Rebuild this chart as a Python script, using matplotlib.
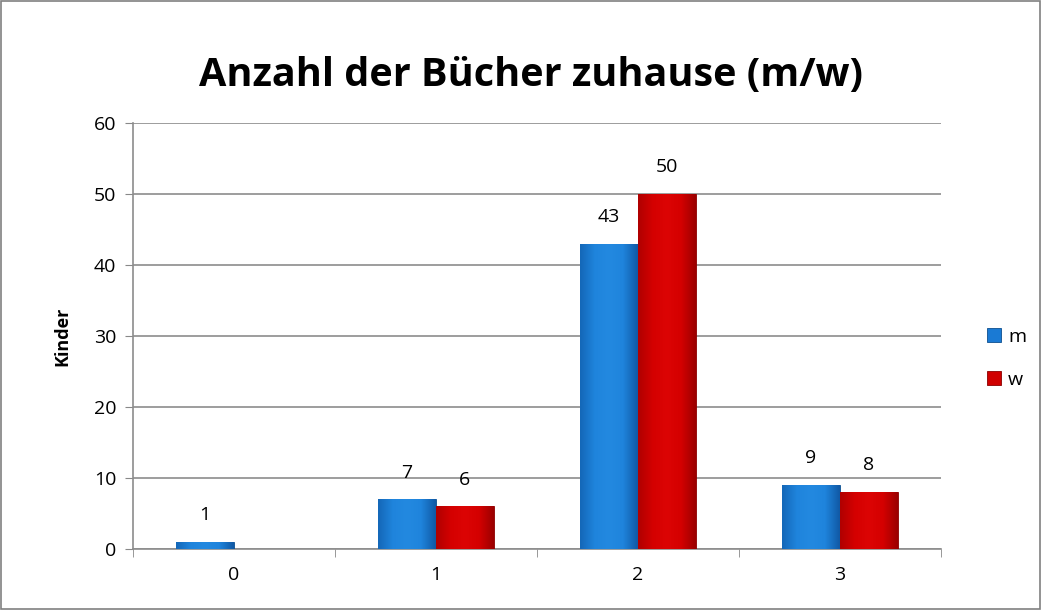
import matplotlib
matplotlib.use("Agg")
import matplotlib.pyplot as plt
import numpy as np
from matplotlib.patches import Rectangle
from matplotlib.colors import LinearSegmentedColormap

categories = ["0", "1", "2", "3"]
m_values = [1, 7, 43, 9]
w_values = [0, 6, 50, 8]
series_names = ["m", "w"]
title = "Anzahl der Bücher zuhause (m/w)"
ylabel = "Kinder"

plt.rcParams['font.family'] = ['Open Sans', 'DejaVu Sans']

fig = plt.figure(figsize=(10.42, 6.10), dpi=100)
ax = fig.add_axes([0.1276, 0.1, 0.7754, 0.698])

x = np.arange(len(categories))
bw = 0.287
blue = "#1a7ad4"
red = "#d00000"
b1 = ax.bar(x - bw / 2, m_values, bw, color=blue, edgecolor="#0d4f8f", linewidth=0.6, label=series_names[0], zorder=3)
b2 = ax.bar(x + bw / 2, w_values, bw, color=red, edgecolor="#8a0000", linewidth=0.6, label=series_names[1], zorder=3)

# horizontal shading gradient for a bevel look
cmaps = {
    "m": LinearSegmentedColormap.from_list("bm", ["#1468b8", "#1f84dc", "#2389e0", "#1f84dc", "#115aa6"]),
    "w": LinearSegmentedColormap.from_list("bw", ["#b00000", "#d40000", "#dc0404", "#d40000", "#9c0000"]),
}
grad = np.linspace(0, 1, 64).reshape(1, -1)
for bars, key in ((b1, "m"), (b2, "w")):
    for p in bars:
        h = p.get_height()
        if h <= 0:
            continue
        x0 = p.get_x(); w = p.get_width()
        im = ax.imshow(grad, cmap=cmaps[key], aspect="auto", extent=(x0, x0 + w, 0, h), zorder=3.5)
        im.set_clip_path(p)

ax.set_aspect("auto")

for xi, v in zip(x, m_values):
    ax.text(xi - bw / 2, v + 2.5, str(v), ha="center", va="bottom", fontsize=14)
for xi, v in zip(x, w_values):
    if v > 0:
        ax.text(xi + bw / 2, v + 2.5, str(v), ha="center", va="bottom", fontsize=14)

ax.set_xlim(-0.5, len(categories) - 0.5)
ax.set_ylim(0, 60)
ax.set_yticks(range(0, 61, 10))
ax.set_xticks(x)
ax.set_xticklabels(categories)
ax.set_xticks(np.arange(-0.5, len(categories), 1), minor=True)
ax.tick_params(axis="x", which="major", length=0, labelsize=14, pad=12)
ax.tick_params(axis="x", which="minor", length=6, color="#888888", direction="out")
ax.tick_params(axis="y", length=6, color="#888888", direction="out", labelsize=14, pad=6)
ax.grid(axis="y", color="#8c8c8c", linewidth=1.2, zorder=0)
ax.set_axisbelow(True)
for s in ["top", "right"]:
    ax.spines[s].set_visible(False)
for s in ["left", "bottom"]:
    ax.spines[s].set_color("#8c8c8c")
    ax.spines[s].set_linewidth(1.2)

ax.set_ylabel(ylabel, fontsize=13, fontweight="bold", labelpad=16)
fig.text(0.51, 0.877, title, ha="center", va="center", fontsize=28.5, fontweight="bold")

leg = ax.legend(loc="center left", bbox_to_anchor=(1.035, 0.448), frameon=False, fontsize=14,
                handlelength=0.75, handleheight=0.75, labelspacing=1.3, handletextpad=0.35)

fig.patches.append(Rectangle((0.001, 0.002), 0.997, 0.996, transform=fig.transFigure,
                             fill=False, edgecolor="#808080", linewidth=1.2))

fig.savefig("out.png", dpi=100)
